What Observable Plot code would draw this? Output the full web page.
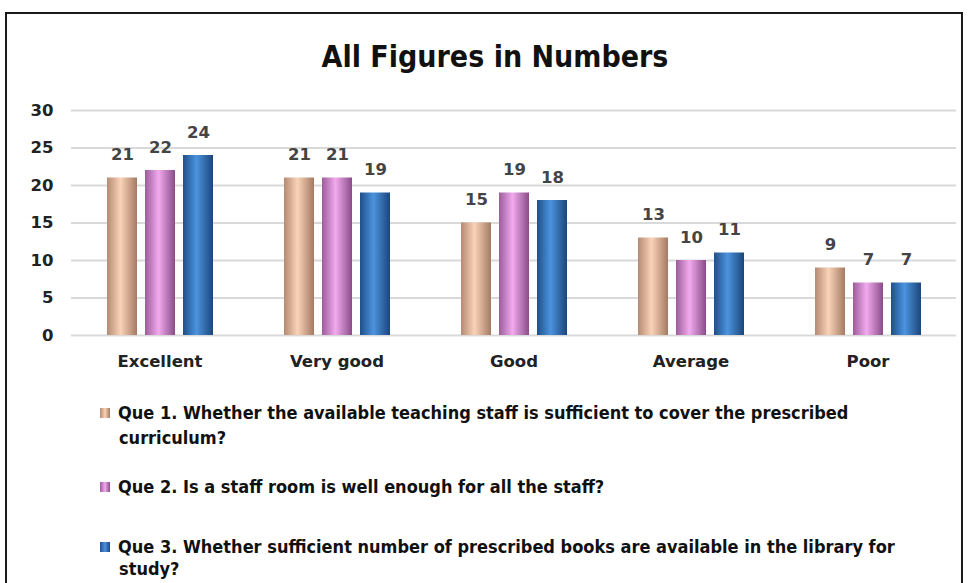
<!DOCTYPE html>
<html>
<head>
<meta charset="utf-8">
<script src="https://cdn.jsdelivr.net/npm/d3@7"></script>
<script src="https://cdn.jsdelivr.net/npm/@observablehq/plot@0.6"></script>
<style>
  html, body { margin: 0; padding: 0; background: #fff; width: 969px; height: 583px; overflow: hidden; }
  #frame { position: absolute; left: 5px; top: 12px; width: 958px; height: 620px; border: 2px solid #1a1a1a; box-sizing: border-box; }
  #title { position: absolute; left: 0; width: 990px; top: 39px; text-align: center; font-family: "DejaVu Sans", sans-serif; font-stretch: condensed; font-weight: bold; font-size: 30px; color: #111; }
  #chart { position: absolute; left: 0; top: 95px; }
  .leg { position: absolute; left: 100px; font-family: "DejaVu Sans", sans-serif; font-stretch: condensed; font-weight: bold; font-size: 18px; line-height: 25px; color: #111; white-space: nowrap; }
  .leg .sw { display: inline-block; width: 10px; height: 10px; margin-right: 8px; vertical-align: 1px; }
  .leg .cont { padding-left: 19px; }
</style>
</head>
<body>
<div id="frame"></div>
<div id="title">All Figures in Numbers</div>
<div id="chart"></div>
<div id="legend"></div>
<script>
const categories = ["Excellent", "Very good", "Good", "Average", "Poor"];
const seriesNames = ["Que 1", "Que 2", "Que 3"];
const que1 = [21, 21, 15, 13, 9];
const que2 = [22, 21, 19, 10, 7];
const que3 = [24, 19, 18, 11, 7];
const yTicks = [0, 5, 10, 15, 20, 25, 30];
const legendLines = [
  ["Que 1.  Whether the available teaching staff is sufficient to cover the prescribed", "curriculum?"],
  ["Que 2. Is a staff room is well enough for all the staff?"],
  ["Que 3.  Whether sufficient number of prescribed books are available in the library for", "study?"]
];
const gradColors = [
  ["#b58a72", "#f9d3b8", "#a47a62"],
  ["#9c5c9a", "#f1aaee", "#8a4c88"],
  ["#1f4f8a", "#4b93de", "#1c4679"]
];

const seriesValues = [que1, que2, que3];
const table = [];
categories.forEach((c, i) => seriesNames.forEach((s, j) => table.push({category: c, series: s, value: seriesValues[j][i]})));
const gradIds = seriesNames.map((s, j) => `grad${j}`);

const plot = Plot.plot({
  width: 969,
  height: 290,
  marginTop: 15,
  marginBottom: 50,
  marginLeft: 70,
  marginRight: 13,
  style: {fontFamily: "'DejaVu Sans', Verdana, sans-serif", fontSize: "16.5px", fontWeight: "bold", color: "#222", overflow: "visible"},
  fx: {domain: categories, padding: 0, label: null, axis: "bottom", tickSize: 0, tickPadding: 20},
  x: {domain: seriesNames, axis: null, paddingInner: 0.22, paddingOuter: 0.9},
  y: {domain: [0, 30], ticks: yTicks, tickSize: 0, tickPadding: 18, label: null},
  color: {domain: seriesNames, range: gradIds.map(id => `url(#${id})`)},
  marks: [
    Plot.ruleY(yTicks, {stroke: "#d9d9d9", strokeWidth: 2}),
    Plot.barY(table, {fx: "category", x: "series", y: "value", fill: "series"}),
    Plot.text(table, {fx: "category", x: "series", y: "value", text: "value", dy: -23, fill: "#444", fontSize: 16.5, fontWeight: "bold"})
  ]
});

// gradient defs
const svg = d3.select(plot);
const defs = svg.insert("defs", ":first-child");
gradIds.forEach((id, j) => {
  const g = defs.append("linearGradient").attr("id", id).attr("x1", 0).attr("x2", 1).attr("y1", 0).attr("y2", 0);
  const c = gradColors[j];
  g.append("stop").attr("offset", "0%").attr("stop-color", c[0]);
  g.append("stop").attr("offset", "45%").attr("stop-color", c[1]);
  g.append("stop").attr("offset", "100%").attr("stop-color", c[2]);
});
document.getElementById("chart").appendChild(plot);

// legend
const legendTops = [400, 474, 536];
const legend = document.getElementById("legend");
legendLines.forEach((lines, j) => {
  const div = document.createElement("div");
  div.className = "leg";
  div.style.top = legendTops[j] + "px";
  if (lines.length > 1 && j === 2) div.style.lineHeight = "22px";
  const first = document.createElement("div");
  const sw = document.createElement("span");
  sw.className = "sw";
  const c = gradColors[j];
  sw.style.background = `linear-gradient(to right, ${c[0]}, ${c[1]}, ${c[2]})`;
  first.appendChild(sw);
  first.appendChild(document.createTextNode(lines[0]));
  div.appendChild(first);
  for (let k = 1; k < lines.length; k++) {
    const d = document.createElement("div");
    d.className = "cont";
    d.textContent = lines[k];
    div.appendChild(d);
  }
  legend.appendChild(div);
});
</script>
</body>
</html>
